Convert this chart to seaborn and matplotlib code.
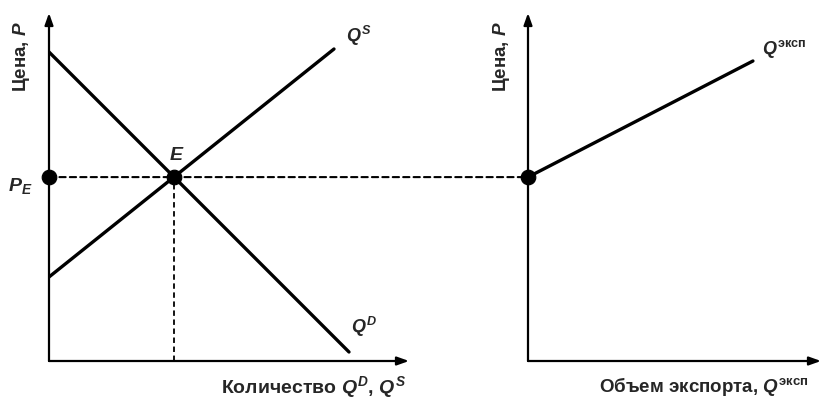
import matplotlib
matplotlib.use('Agg')
import matplotlib.pyplot as plt
from matplotlib.patches import ConnectionPatch
import seaborn as sns
import pandas as pd

sns.set_style('white')
plt.rcParams['font.family'] = ['Liberation Sans', 'DejaVu Sans']
plt.rcParams['mathtext.fontset'] = 'custom'
plt.rcParams['mathtext.rm'] = 'Liberation Sans:bold'
plt.rcParams['mathtext.it'] = 'Liberation Sans:italic:bold'
plt.rcParams['mathtext.bf'] = 'Liberation Sans:bold'

# demand and supply, left panel (quantity, price)
demand_q = [0, 10.0]
demand_p = [10.3, 0.3]
supply_q = [0, 9.5]
supply_p = [2.8, 10.4]
# equilibrium point E
eq_q = 4.17
eq_p = 6.13
# export supply, right panel
export_q = [0, 7.5]
export_p = [6.13, 10.0]

left_xmax, left_ymax = 12.0, 11.6
right_xmax = 9.77

fig = plt.figure(figsize=(8.23, 3.99), dpi=100)
ax1 = fig.add_axes([49 / 823, 38 / 399, 360 / 823, 348 / 399])
ax2 = fig.add_axes([528 / 823, 38 / 399, 293 / 823, 348 / 399])

dfD = pd.DataFrame({'q': demand_q, 'p': demand_p})
dfS = pd.DataFrame({'q': supply_q, 'p': supply_p})
dfX = pd.DataFrame({'q': export_q, 'p': export_p})

sns.lineplot(data=dfD, x='q', y='p', ax=ax1, color='black', lw=2.4, sort=False)
sns.lineplot(data=dfS, x='q', y='p', ax=ax1, color='black', lw=2.4, sort=False)
sns.lineplot(data=dfX, x='q', y='p', ax=ax2, color='black', lw=2.4, sort=False)

# dashed guides
ax1.plot([eq_q, eq_q], [0, eq_p], ls=(0, (3, 2)), color='black', lw=1.3)
con = ConnectionPatch(xyA=(0, eq_p), coordsA=ax1.transData,
                      xyB=(0, eq_p), coordsB=ax2.transData,
                      ls=(0, (3, 2)), color='black', lw=1.5)
fig.add_artist(con)

pts1 = pd.DataFrame({'q': [0, eq_q], 'p': [eq_p, eq_p]})
sns.scatterplot(data=pts1, x='q', y='p', ax=ax1, color='black', s=110,
                edgecolor='black', zorder=5, clip_on=False)
pts2 = pd.DataFrame({'q': [0], 'p': [eq_p]})
sns.scatterplot(data=pts2, x='q', y='p', ax=ax2, color='black', s=110,
                edgecolor='black', zorder=5, clip_on=False)

for ax, xmax in [(ax1, left_xmax), (ax2, right_xmax)]:
    ax.set_xlim(0, xmax)
    ax.set_ylim(0, left_ymax)
    for sp in ax.spines.values():
        sp.set_visible(False)
    ax.set_xticks([])
    ax.set_yticks([])
    ax.set_xlabel('')
    ax.set_ylabel('')
    ax.patch.set_alpha(0)
    arr = dict(arrowstyle='-|>,head_length=0.7,head_width=0.25', color='black', lw=1.6,
               shrinkA=0, shrinkB=0)
    ax.annotate('', xy=(1, 0), xytext=(0, 0), xycoords='axes fraction',
                textcoords='axes fraction', arrowprops=arr)
    ax.annotate('', xy=(0, 1), xytext=(0, 0), xycoords='axes fraction',
                textcoords='axes fraction', arrowprops=arr)

fs = 13.5
# labels, left panel
ax1.text(-0.93, 10.15, r'Цена, $P$', rotation=90, ha='center', va='center',
         fontsize=fs, fontweight='bold', clip_on=False)
ax1.text(-0.95, 5.85, r'$P_E$', ha='center', va='center', fontsize=14, clip_on=False)
ax1.text(4.25, 6.85, r'$E$', ha='center', va='center', fontsize=14)
ax1.text(9.9, 10.85, r'$Q^S$', ha='left', va='center', fontsize=13)
ax1.text(10.05, 1.15, r'$Q^D$', ha='left', va='center', fontsize=13)
ax1.text(11.9, -0.88, r'Количество $Q^D$, $Q^S$', ha='right', va='center',
         fontsize=14, fontweight='bold', clip_on=False)

# labels, right panel
ax2.text(-0.87, 10.15, r'Цена, $P$', rotation=90, ha='center', va='center',
         fontsize=fs, fontweight='bold', clip_on=False)
ax2.text(7.8, 10.4, r'$Q^{\mathrm{эксп}}$', ha='left', va='center', fontsize=13)
ax2.text(9.35, -0.85, r'Объем экспорта, $Q^{\mathrm{эксп}}$', ha='right', va='center',
         fontsize=fs, fontweight='bold', clip_on=False)

fig.savefig('out.png', dpi=100)
